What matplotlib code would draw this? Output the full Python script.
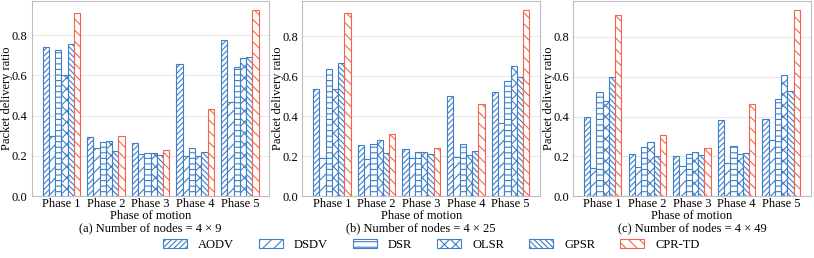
import numpy as np
import matplotlib
matplotlib.use("Agg")
from matplotlib import pyplot as plt

plt.rcParams['font.family'] = ['Liberation Serif', 'DejaVu Serif']
plt.rcParams['hatch.linewidth'] = 0.8

phases = ['Phase 1', 'Phase 2', 'Phase 3', 'Phase 4', 'Phase 5']
protocols = ['AODV', 'DSDV', 'DSR', 'OLSR', 'GPSR', 'CPR-TD']

# packet delivery ratio, rows = protocols, cols = phases
pdr_4x9 = [
    [0.74, 0.295, 0.265, 0.655, 0.775],
    [0.30, 0.24, 0.21, 0.20, 0.47],
    [0.725, 0.27, 0.215, 0.24, 0.64],
    [0.60, 0.275, 0.215, 0.20, 0.685],
    [0.755, 0.225, 0.205, 0.22, 0.69],
    [0.91, 0.30, 0.23, 0.435, 0.925],
]
pdr_4x25 = [
    [0.535, 0.255, 0.235, 0.50, 0.52],
    [0.19, 0.185, 0.19, 0.195, 0.365],
    [0.635, 0.26, 0.22, 0.26, 0.575],
    [0.535, 0.28, 0.22, 0.205, 0.65],
    [0.665, 0.215, 0.21, 0.225, 0.595],
    [0.915, 0.31, 0.24, 0.46, 0.93],
]
pdr_4x49 = [
    [0.40, 0.21, 0.20, 0.38, 0.385],
    [0.14, 0.145, 0.15, 0.165, 0.28],
    [0.525, 0.245, 0.21, 0.25, 0.49],
    [0.48, 0.27, 0.22, 0.21, 0.61],
    [0.60, 0.20, 0.205, 0.215, 0.53],
    [0.91, 0.305, 0.24, 0.465, 0.935],
]
panels = [pdr_4x9, pdr_4x25, pdr_4x49]
titles = ['(a) Number of nodes = 4 × 9',
          '(b) Number of nodes = 4 × 25',
          '(c) Number of nodes = 4 × 49']

hatches = ['//////', '///', '---', 'xxx', '\\\\\\\\\\\\', '\\\\\\']
blue = '#3f7fc8'
red = '#f4644c'
colors = [blue, blue, blue, blue, blue, red]

fig, axes = plt.subplots(1, 3, figsize=(8.14, 2.58), dpi=100)
plt.subplots_adjust(left=0.039, right=0.996, top=0.997, bottom=0.240, wspace=0.139)

x = np.arange(len(phases))
w = 0.14
for ax, data, title in zip(axes, panels, titles):
    for i, name in enumerate(protocols):
        ax.bar(x + (i - 2.5) * w, data[i], w, facecolor='white',
               edgecolor=colors[i], hatch=hatches[i], linewidth=0.8, label=name)
    ax.set_xticks(x)
    ax.set_xticklabels(phases, fontsize=9)
    ax.set_yticks([0, 0.2, 0.4, 0.6, 0.8])
    ax.tick_params(axis='y', labelsize=9, pad=3)
    ax.tick_params(axis='x', pad=1.5)
    ax.tick_params(length=0)
    ax.yaxis.grid(True, color='#e8e8e8', linewidth=0.8)
    ax.set_axisbelow(True)
    for s in ax.spines.values():
        s.set_color('#bdbdbd')
        s.set_linewidth(0.8)
    ax.set_ylabel('Packet delivery ratio', fontsize=9)
    ax.yaxis.set_label_coords(-0.078, 0.5)
    pos = ax.get_position()
    cx = (pos.x0 + pos.x1) / 2
    fig.text(cx, 1 - 216 / 258, 'Phase of motion', ha='center', va='center', fontsize=9)
    fig.text(cx, 1 - 228 / 258, title, ha='center', va='center', fontsize=9)

handles, labels = axes[0].get_legend_handles_labels()
fig.legend(handles, labels, loc='center', ncol=6, frameon=False,
           fontsize=9, bbox_to_anchor=(0.53, 1 - 245 / 258), handlelength=1.9,
           handleheight=0.75, columnspacing=2.0, handletextpad=0.9)

plt.savefig('out.png', dpi=100)
